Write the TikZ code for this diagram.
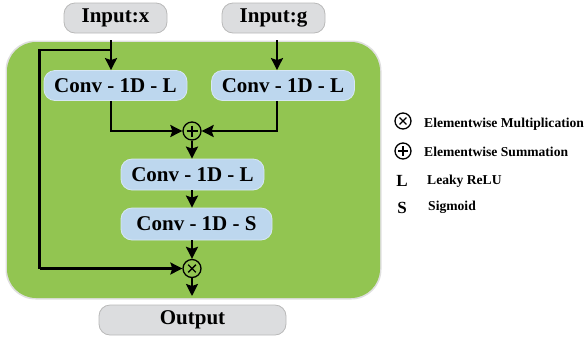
\documentclass[tikz,border=0pt]{standalone}
\usepackage{fontspec}
\setmainfont{Liberation Serif}
\usetikzlibrary{arrows.meta,calc}
\definecolor{panelgreen}{HTML}{92C551}
\definecolor{convblue}{HTML}{BDD7EE}
\definecolor{iogray}{HTML}{DCDDDF}
\tikzset{
  conv/.style={rounded corners=11pt, fill=convblue, draw=convblue!60!white, line width=0.8pt,
    minimum height=31pt, inner sep=0pt, font=\fontsize{21}{22}\selectfont\bfseries},
  iobox/.style={rounded corners=11pt, fill=iogray, draw=gray!55, line width=0.8pt,
    minimum height=30pt, inner sep=0pt, font=\fontsize{21}{22}\selectfont\bfseries},
  opcircle/.style={circle, draw=black, line width=1.3pt, minimum size=18pt, inner sep=0pt},
  flow/.style={line width=2.1pt, -{Stealth[length=12pt,width=12pt,inset=2pt]}},
  wire/.style={line width=2.1pt},
  legend/.style={anchor=west, inner sep=0pt, font=\fontsize{13.6}{16}\selectfont\bfseries},
  legsym/.style={inner sep=0pt, font=\fontsize{17}{19}\selectfont\bfseries},
}
\begin{document}
\begin{tikzpicture}[x=1pt, y=-1pt]
\useasboundingbox (0,0) rectangle (588,341);
% green panel with a faint rim
\fill[gray!25, rounded corners=30pt] (5.5,40.5) rectangle (381.5,299.5);
\fill[panelgreen, rounded corners=29pt] (7,42) rectangle (380,298);

% inputs and output
\node[iobox, minimum width=103pt] (inx) at (115.5,18) {Input:x};
\node[iobox, minimum width=103pt] (ing) at (273.5,18) {Input:g};
\node[iobox, minimum width=187pt] (out) at (192.5,320) {Output};

% convolution blocks
\node[conv, minimum width=143pt, minimum height=30pt] (c1) at (115.5,85.5) {Conv - 1D - L};
\node[conv, minimum width=143pt, minimum height=30pt] (c2) at (283,85.5) {Conv - 1D - L};
\node[conv, minimum width=143pt] (c3) at (192.5,174.5) {Conv - 1D - L};
\node[conv, minimum width=151pt, minimum height=32pt] (c4) at (196.5,224) {Conv - 1D - S};

% operators
\node[opcircle] (sum) at (192,131) {};
\draw[line width=1.4pt] ($(sum)+(-5.5,0)$) -- ($(sum)+(5.5,0)$) ($(sum)+(0,-5.5)$) -- ($(sum)+(0,5.5)$);
\node[opcircle] (mul) at (192,268.5) {};
\draw[line width=1.4pt] ($(mul)+(-3.8,-3.8)$) -- ($(mul)+(3.8,3.8)$) ($(mul)+(-3.8,3.8)$) -- ($(mul)+(3.8,-3.8)$);

% wiring
\coordinate (xtop) at (111,40);
\coordinate (gtop) at (277,40);
\coordinate (skip) at (111,50);
\coordinate (mulout) at (192,296);
\draw[flow] (xtop) -- (xtop |- c1.north);
\draw[flow] (gtop) -- (gtop |- c2.north);
\draw[wire] (skip) -- (39.5,50) -- (39.5,268.5) coordinate (skipbot);
\draw[flow] (skipbot) -- (mul.west);
\draw[flow] (xtop |- c1.south) |- (sum.west);
\draw[flow] (gtop |- c2.south) |- (sum.east);
\draw[flow] (sum.south) -- (sum.south |- c3.north);
\draw[flow] (sum.south |- c3.south) -- (sum.south |- c4.north);
\draw[flow] (sum.south |- c4.south) -- (mul.north);
\draw[flow] (mul.south) -- (mulout);

% legend
\node[opcircle, minimum size=16pt, fill=white] (lmul) at (403,121) {};
\draw[line width=1.3pt] ($(lmul)+(-3.4,-3.4)$) -- ($(lmul)+(3.4,3.4)$) ($(lmul)+(-3.4,3.4)$) -- ($(lmul)+(3.4,-3.4)$);
\node[legend] (tmul) at (424,124) {Elementwise Multiplication};
\node[opcircle, minimum size=16pt, fill=white] (lsum) at (403,151) {};
\draw[line width=1.3pt] ($(lsum)+(-4.8,0)$) -- ($(lsum)+(4.8,0)$) ($(lsum)+(0,-4.8)$) -- ($(lsum)+(0,4.8)$);
\node[legend] (tsum) at (424,152) {Elementwise Summation};
\node[legsym] (lL) at (402,181) {L};
\node[legend] (tL) at (427,181) {Leaky ReLU};
\node[legsym] (lS) at (402,208) {S};
\node[legend] (tS) at (428,207) {Sigmoid};
\end{tikzpicture}
\end{document}
